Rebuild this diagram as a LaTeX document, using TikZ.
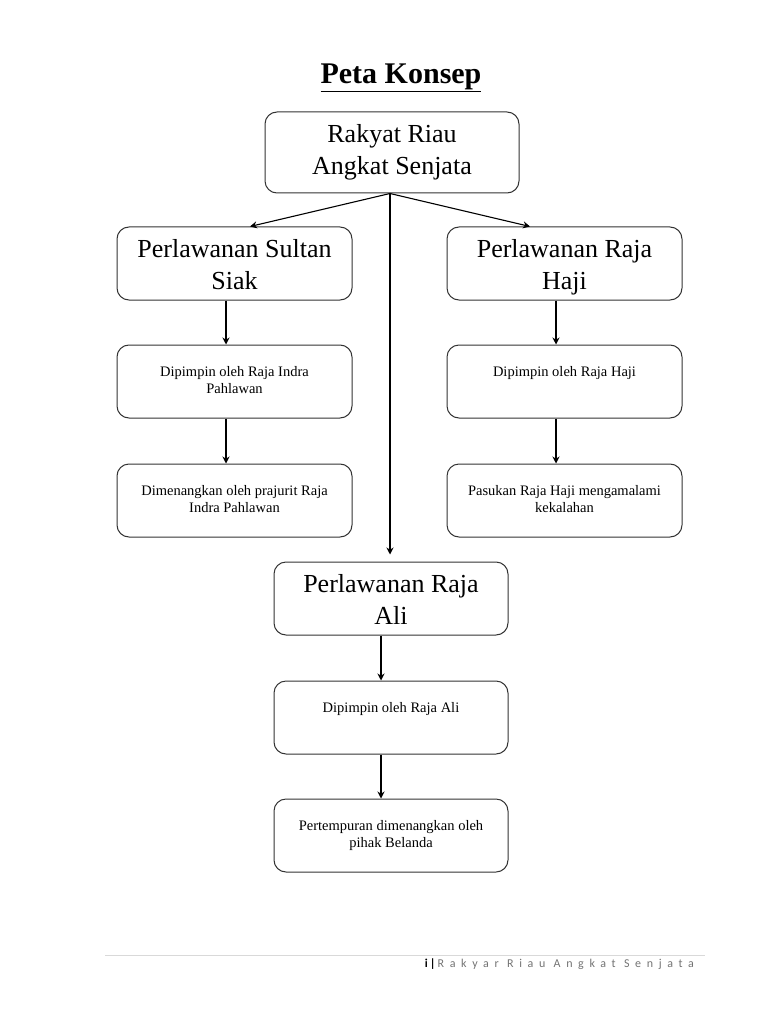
\documentclass[tikz,border=0pt]{standalone}
\usepackage{fontspec}
\setmainfont{Liberation Serif}
\newfontfamily\footfont{Carlito}
\usetikzlibrary{arrows.meta,calc}
\newcommand{\topstrut}{\rule{0pt}{30pt}}
\tikzset{
  box/.style={draw=black!80, line width=1pt, rounded corners=12pt, minimum width=235pt, minimum height=73pt, inner sep=0pt},
  bigtxt/.style={align=center, font=\fontsize{26}{32}\selectfont},
  smalltxt/.style={align=center, font=\fontsize{14.5}{17}\selectfont, inner sep=0pt, anchor=north},
  conn/.style={line width=1.1pt, -{Stealth[length=7pt,width=7pt]}},
}
\begin{document}
\begin{tikzpicture}[x=1pt,y=-1pt]
\useasboundingbox (0,0) rectangle (768,1024);
% title
\node[font=\fontsize{30}{34}\selectfont\bfseries] (title) at (401,78) {\underline{Peta Konsep}};
% top
\node[box, minimum width=254pt, minimum height=81pt, bigtxt] (top) at (392,152.5) {Rakyat Riau\strut\\Angkat Senjata\strut};
% level 1
\node[box, bigtxt] (L1) at (234.5,263.5) {\topstrut Perlawanan Sultan\\Siak\strut};
\node[box, bigtxt] (R1) at (564.5,263.5) {\topstrut Perlawanan Raja\\Haji\strut};
\node[box] (L2) at (234.5,381.5) {};
\node[box] (L3) at (234.5,500.5) {};
\node[box] (R2) at (564.5,381.5) {};
\node[box] (R3) at (564.5,500.5) {};
\node[box, minimum width=234pt, bigtxt] (C1) at (391,598.5) {\topstrut Perlawanan Raja\\Ali\strut};
\node[box, minimum width=234pt] (C2) at (391,717.5) {};
\node[box, minimum width=234pt] (C3) at (391,835.5) {};
% small texts
\node[smalltxt] (tL2) at ([yshift=-22pt]L2.north) {Dipimpin oleh Raja Indra\\Pahlawan};
\node[smalltxt] (tL3) at ([yshift=-22pt]L3.north) {Dimenangkan oleh prajurit Raja\\Indra Pahlawan};
\node[smalltxt] (tR2) at ([yshift=-22pt]R2.north) {Dipimpin oleh Raja Haji};
\node[smalltxt] (tR3) at ([yshift=-22pt]R3.north) {Pasukan Raja Haji mengamalami\\kekalahan};
\node[smalltxt] (tC2) at ([yshift=-22pt]C2.north) {Dipimpin oleh Raja Ali};
\node[smalltxt] (tC3) at ([yshift=-22pt]C3.north) {Pertempuran dimenangkan oleh\\pihak Belanda};
% connectors
\coordinate (hub) at ([xshift=-2pt]top.south);
\coordinate (cend) at ([yshift=7pt]hub |- C1.north);
\draw[conn] (hub) -- ([xshift=15.5pt]L1.north);
\draw[conn] (hub) -- ([xshift=-34.5pt]R1.north);
\draw[conn] (hub) -- (cend);
\draw[conn] ([xshift=-8.5pt]L1.south) -- ([xshift=-8.5pt]L2.north);
\draw[conn] ([xshift=-8.5pt]L2.south) -- ([xshift=-8.5pt]L3.north);
\draw[conn] ([xshift=-8.5pt]R1.south) -- ([xshift=-8.5pt]R2.north);
\draw[conn] ([xshift=-8.5pt]R2.south) -- ([xshift=-8.5pt]R3.north);
\draw[conn] ([xshift=-10pt]C1.south) -- ([xshift=-10pt]C2.north);
\draw[conn] ([xshift=-10pt]C2.south) -- ([xshift=-10pt]C3.north);
% footer
\coordinate (fl) at (105,955);
\coordinate (fr) at (705,955);
\draw[black!15, line width=0.8pt] (fl) -- (fr);
\node[anchor=east, inner sep=0pt, font=\footfont\fontsize{12}{14}\selectfont] (foot) at (694,964) {\textbf{i\,|}\,{\color{black!55}\addfontfeature{LetterSpace=47}Rakyar Riau Angkat Senjata}};
\end{tikzpicture}
\end{document}
